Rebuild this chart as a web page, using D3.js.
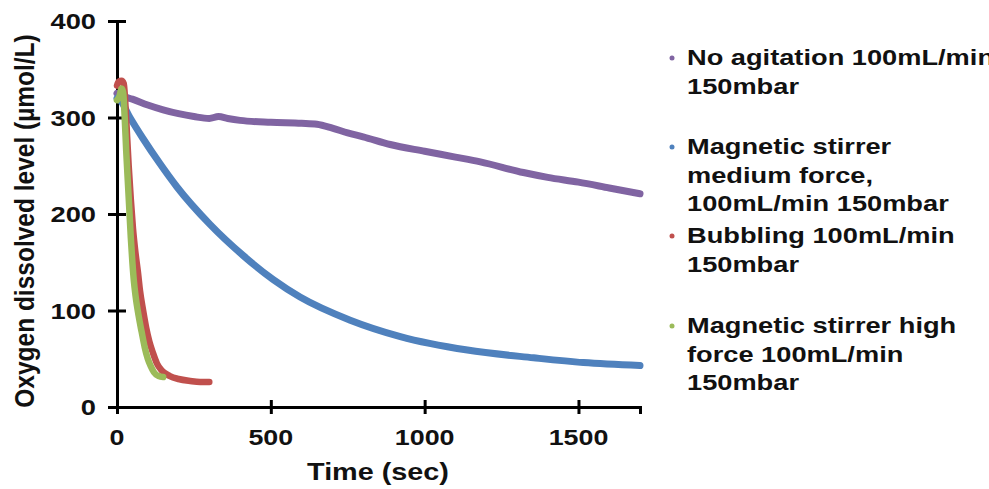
<!DOCTYPE html>
<html>
<head>
<meta charset="utf-8">
<script src="https://cdn.jsdelivr.net/npm/d3@7"></script>
<style>
  body { margin: 0; background: #fff; }
  text { font-family: "Liberation Sans", Arial, sans-serif; font-weight: bold; fill: #111; }
</style>
</head>
<body>
<div id="chart"></div>
<script>

// time (sec) and oxygen level (umol/L)
var noAgitationT = [0, 20, 50, 100, 150, 200, 250, 300, 330, 360, 400, 500, 600, 650, 700, 750, 800, 888, 1000, 1100, 1181, 1321, 1400, 1500, 1600, 1700];
var noAgitationV = [325, 322, 319, 313, 308, 304, 301, 299, 301, 299, 297, 295, 294, 293, 289, 284, 280, 272, 265, 259, 254, 243, 238, 233, 227, 221];

var mediumT = [0, 10, 42, 85, 140, 195, 303, 410, 508, 595, 758, 921, 1139, 1354, 1516, 1700];
var mediumV = [320, 318, 300, 278, 252, 228, 189, 157, 132, 114, 90, 73, 59, 51, 46, 43];

var bubblingT = [0, 5, 15, 22, 28, 33, 38, 45, 52, 60, 68, 75, 85, 95, 105, 117, 130, 145, 172, 200, 238, 270, 300];
var bubblingV = [333, 337, 338, 335, 310, 280, 250, 215, 185, 160, 140, 120, 100, 82, 68, 56, 45, 38, 32, 29, 27, 26, 26];

var highT = [0, 8, 15, 20, 25, 30, 35, 40, 45, 50, 55, 60, 70, 80, 90, 100, 110, 120, 135, 150];
var highV = [318, 322, 330, 326, 300, 265, 235, 205, 175, 150, 130, 116, 95, 78, 62, 50, 42, 36, 32, 31];

var seriesNames = [
    ["No agitation 100mL/min", "150mbar"],
    ["Magnetic stirrer", "medium force,", "100mL/min 150mbar"],
    ["Bubbling 100mL/min", "150mbar"],
    ["Magnetic stirrer high", "force 100mL/min", "150mbar"]
];
var seriesColors = ["#8064A2", "#4F81BD", "#C0504D", "#9BBB59"];

var xTicks = [0, 500, 1000, 1500];
var yTicks = [0, 100, 200, 300, 400];

var width = 989, height = 489;
var stretch = 1.2; // the picture's text is a bit wide

var svg = d3.select("#chart")
    .append("svg")
    .attr("width", width)
    .attr("height", height);

var x = d3.scaleLinear().domain([0, 1700]).range([117, 640]);
var y = d3.scaleLinear().domain([0, 400]).range([407, 21]);

function pairs(t, v) {
    return t.map(function(d, i) { return { t: d, v: v[i] }; });
}

var allSeries = [
    pairs(noAgitationT, noAgitationV),
    pairs(mediumT, mediumV),
    pairs(bubblingT, bubblingV),
    pairs(highT, highV)
];

var line = d3.line()
    .x(function(d) { return x(d.t); })
    .y(function(d) { return y(d.v); })
    .curve(d3.curveMonotoneX);

// axes first, curves sit on top
var xAxis = svg.append("g")
    .attr("transform", "translate(0," + y(0) + ")")
    .call(d3.axisBottom(x).tickValues(xTicks).tickSizeOuter(0).tickSize(7).tickFormat(""));
var yAxis = svg.append("g")
    .attr("transform", "translate(" + x(0) + ",0)")
    .call(d3.axisLeft(y).tickValues(yTicks).tickSizeOuter(0).tickSize(9).tickFormat(""));

xAxis.select(".domain").attr("stroke", "#000").attr("stroke-width", 3);
yAxis.select(".domain").attr("stroke", "#000").attr("stroke-width", 3);
xAxis.selectAll(".tick line").attr("y1", -7).attr("stroke", "#000").attr("stroke-width", 3);
yAxis.selectAll(".tick line").attr("x1", 9).attr("stroke", "#000").attr("stroke-width", 3);

// tick labels
xTicks.forEach(function(d) {
    svg.append("text")
        .attr("transform", "translate(" + x(d) + ",445) scale(1.22,1)")
        .attr("text-anchor", "middle")
        .style("font-size", "22px")
        .text(d);
});
yTicks.forEach(function(d) {
    svg.append("text")
        .attr("transform", "translate(96," + (y(d) + 8) + ") scale(1.24,1)")
        .attr("text-anchor", "end")
        .style("font-size", "22px")
        .text(d);
});

// axis titles
svg.append("text")
    .attr("transform", "translate(378,480) scale(" + stretch + ",1)")
    .attr("text-anchor", "middle")
    .style("font-size", "24px")
    .text("Time (sec)");
svg.append("text")
    .attr("transform", "translate(34,221) rotate(-90) scale(1,1.1)")
    .attr("text-anchor", "middle")
    .style("font-size", "24.5px")
    .text("Oxygen dissolved level (\u00b5mol/L)");

// curves
svg.append("g")
    .selectAll("path")
    .data(allSeries)
    .enter().append("path")
    .attr("d", line)
    .attr("fill", "none")
    .attr("stroke", function(d, i) { return seriesColors[i]; })
    .attr("stroke-width", function(d, i) { return i < 2 ? 7 : 6.5; })
    .attr("stroke-linecap", "round")
    .attr("stroke-linejoin", "round");

// legend
var legendTop = [65, 154, 243, 333];
var lineGap = 28.5;

seriesNames.forEach(function(names, i) {
    svg.append("circle")
        .attr("cx", 672)
        .attr("cy", legendTop[i] - 7)
        .attr("r", 2.5)
        .attr("fill", seriesColors[i]);
    names.forEach(function(s, j) {
        svg.append("text")
            .attr("transform", "translate(687," + (legendTop[i] + j * lineGap) + ") scale(1.21,1)")
            .style("font-size", "22.5px")
            .text(s);
    });
});

</script>
</body>
</html>
